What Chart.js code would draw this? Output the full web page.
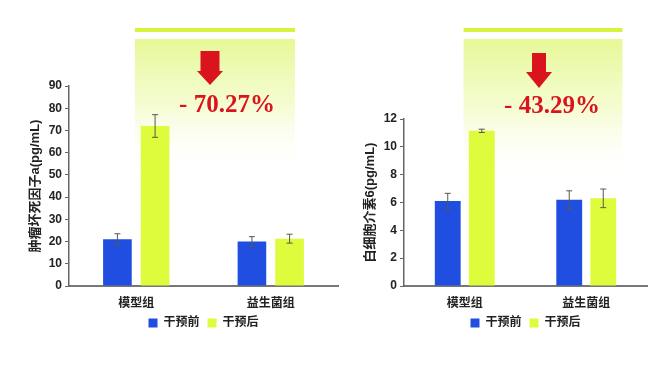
<!DOCTYPE html>
<html><head><meta charset="utf-8">
<script src="https://cdn.jsdelivr.net/npm/chart.js@4.4.1/dist/chart.umd.min.js"></script>
<style>
html,body{margin:0;padding:0;background:#fff;width:669px;height:365px;overflow:hidden;}
.wrap{position:absolute;top:0;height:365px;}
</style></head>
<body>
<div class="wrap" style="left:0;width:340px;"><canvas id="c1" width="340" height="365"></canvas></div>
<div class="wrap" style="left:335px;width:334px;"><canvas id="c2" width="334" height="365"></canvas></div>
<script>
const categories = ['模型组', '益生菌组'];
const seriesNames = ['干预前', '干预后'];
const tnfBefore = [21.0, 20.0];
const tnfAfter = [72.0, 21.3];
const tnfBeforeErr = [2.5, 2.2];
const tnfAfterErr = [5.1, 2.0];
const il6Before = [6.1, 6.2];
const il6After = [11.15, 6.3];
const il6BeforeErr = [0.56, 0.64];
const il6AfterErr = [0.12, 0.67];
const tnfTickMax = 90, tnfTickStep = 10;
const il6TickMax = 12, il6TickStep = 2;
const tnfTitle = '肿瘤坏死因子a(pg/mL)';
const il6Title = '白细胞介素6(pg/mL)';
const tnfChange = '- 70.27%';
const il6Change = '- 43.29%';

const FONT = '"Liberation Sans", Arial, "Noto Sans CJK SC", sans-serif';
const BLUE = '#1f4ee0';
const YEL = '#defb3c';

const errorBars = {
  id: 'errorBars',
  afterDatasetsDraw(chart, args, opts) {
    const ctx = chart.ctx, ys = chart.scales.y;
    chart.data.datasets.forEach((ds, i) => {
      const meta = chart.getDatasetMeta(i);
      meta.data.forEach((bar, j) => {
        const v = ds.data[j], e = ds.err[j];
        const yt = ys.getPixelForValue(v + e), yb = ys.getPixelForValue(v - e);
        ctx.save();
        ctx.strokeStyle = '#5a5a4a'; ctx.lineWidth = 1;
        ctx.beginPath();
        ctx.moveTo(bar.x, yt); ctx.lineTo(bar.x, yb);
        ctx.moveTo(bar.x - 3, yt); ctx.lineTo(bar.x + 3, yt);
        ctx.moveTo(bar.x - 3, yb); ctx.lineTo(bar.x + 3, yb);
        ctx.stroke();
        ctx.restore();
      });
    });
  }
};

const highlight = {
  id: 'highlight',
  beforeDatasetsDraw(chart, args, o) {
    const ctx = chart.ctx, a = chart.chartArea;
    const x0 = a.left + o.f0 * (a.right - a.left), x1 = a.left + o.f1 * (a.right - a.left);
    ctx.save();
    ctx.fillStyle = '#d9f33c';
    ctx.fillRect(x0, 28, x1 - x0, 4);
    const g = ctx.createLinearGradient(0, 39, 0, o.fadeY);
    g.addColorStop(0, 'rgba(230,248,150,1)');
    g.addColorStop(0.5, 'rgba(240,251,190,0.7)');
    g.addColorStop(1, 'rgba(255,255,255,0)');
    ctx.fillStyle = g;
    ctx.fillRect(x0, 39, x1 - x0, o.fadeY - 39);
    ctx.restore();
  },
  afterDraw(chart, args, o) {
    const ctx = chart.ctx;
    const cx = o.ax;
    ctx.save();
    ctx.fillStyle = '#d9141f';
    ctx.beginPath();
    ctx.moveTo(cx - o.sw / 2, o.top);
    ctx.lineTo(cx + o.sw / 2, o.top);
    ctx.lineTo(cx + o.sw / 2, o.headY);
    ctx.lineTo(cx + 13, o.headY);
    ctx.lineTo(cx, o.tip);
    ctx.lineTo(cx - 13, o.headY);
    ctx.lineTo(cx - o.sw / 2, o.headY);
    ctx.closePath();
    ctx.fill();
    ctx.font = 'bold 25px "Liberation Serif", "Times New Roman", serif';
    ctx.textAlign = 'center';
    ctx.textBaseline = 'middle';
    ctx.fillStyle = '#d9141f';
    ctx.fillText(o.text, o.tx, o.ty);
    ctx.restore();
  }
};

function makeChart(id, before, after, bErr, aErr, tmax, tstep, title, hl, padTop, padRight) {
  return new Chart(document.getElementById(id), {
    type: 'bar',
    data: {
      labels: categories,
      datasets: [
        { label: seriesNames[0], data: before, err: bErr, backgroundColor: BLUE, borderWidth: 0 },
        { label: seriesNames[1], data: after, err: aErr, backgroundColor: YEL, borderWidth: 0 }
      ]
    },
    options: {
      responsive: false,
      animation: false,
      devicePixelRatio: 1,
      categoryPercentage: 0.56,
      barPercentage: 0.76,
      layout: { padding: { top: padTop, right: padRight, left: 0, bottom: 34 } },
      plugins: {
        legend: {
          position: 'bottom',
          fullSize: false,
          maxHeight: 22,
          labels: { boxWidth: 9, boxHeight: 9, padding: 8, color: '#222', font: { family: FONT, size: 12, weight: 'bold' } }
        },
        tooltip: { enabled: false },
        highlight: hl
      },
      scales: {
        x: {
          afterFit(s) { s.height = 23; },
          grid: { display: false, drawTicks: false },
          border: { display: true, color: '#777', width: 2 },
          ticks: { color: '#222', padding: 10, font: { family: FONT, size: 12, weight: 'bold' } }
        },
        y: {
          min: 0, max: tmax,
          afterFit(s) { s.width = 69; },
          ticks: { stepSize: tstep, color: '#222', padding: 3, font: { family: FONT, size: 12, weight: 'bold' } },
          grid: { drawOnChartArea: false, drawTicks: true, tickLength: 4, color: '#666' },
          border: { display: true, color: '#666', width: 1.5 },
          title: { display: true, text: title, color: '#222', padding: { top: 28, bottom: 0 }, font: { family: FONT, size: 13, weight: 'bold' } }
        }
      }
    },
    plugins: [errorBars, highlight]
  });
}

makeChart('c1', tnfBefore, tnfAfter, tnfBeforeErr, tnfAfterErr, tnfTickMax, tnfTickStep, tnfTitle,
  { f0: 0.245, f1: 0.84, fadeY: 172, ax: 210, sw: 19, top: 51, headY: 71, tip: 85, text: tnfChange, tx: 227, ty: 106 }, 86, 2);
makeChart('c2', il6Before, il6After, il6BeforeErr, il6AfterErr, il6TickMax, il6TickStep, il6Title,
  { f0: 0.245, f1: 0.899, fadeY: 178, ax: 204, sw: 14, top: 53, headY: 72, tip: 88, text: il6Change, tx: 217, ty: 107 }, 119, 22);
</script>
</body></html>
